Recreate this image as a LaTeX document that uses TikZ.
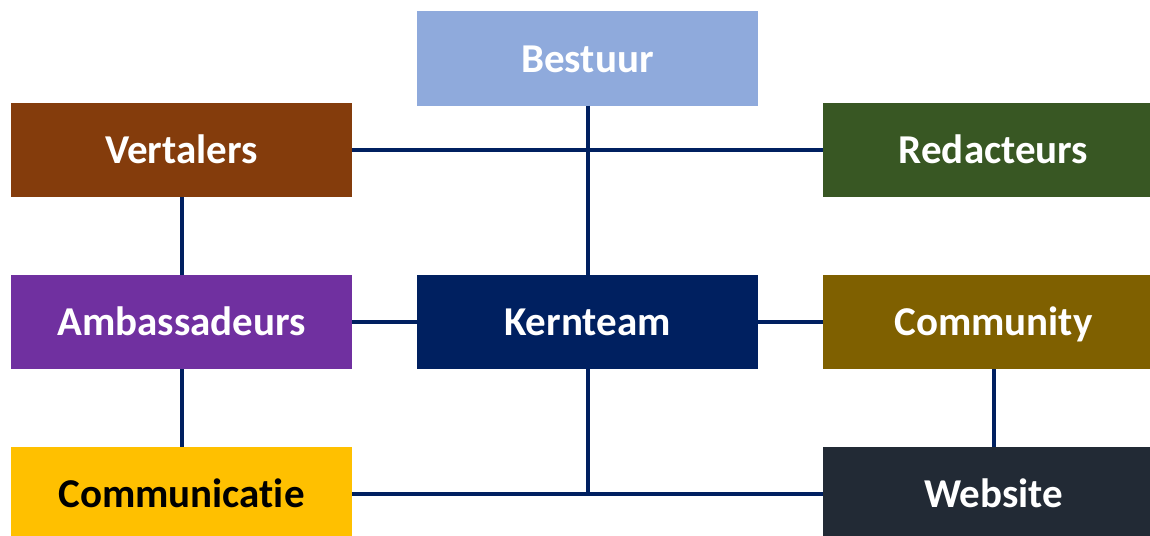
\documentclass[tikz,border=0pt]{standalone}
\usepackage{fontspec}
\setmainfont[Ligatures=NoCommon]{Carlito}
\usepackage{xcolor}
\usetikzlibrary{positioning}

\definecolor{bestuurblue}{HTML}{8FAADC}
\definecolor{vertbrown}{HTML}{843C0C}
\definecolor{redgreen}{HTML}{385723}
\definecolor{ambpurple}{HTML}{7030A0}
\definecolor{kernnavy}{HTML}{002060}
\definecolor{comolive}{HTML}{7F6000}
\definecolor{commyellow}{HTML}{FFC000}
\definecolor{webdark}{HTML}{222A35}

\begin{document}
\begin{tikzpicture}[x=1pt, y=1pt,
                team/.style = {minimum width = 341pt, minimum height = 94pt, inner sep = 0pt,
                               text height = 27pt, text depth = 0pt,
                               text = white, font = \fontsize{41}{46}\selectfont\bfseries},
                link/.style = {draw = kernnavy, line width = 4pt}
                ]
                \clip (0,0) rectangle (1150,-535);
                % bovenste rij
                \node[team, fill = bestuurblue] (bestuur) at (587.5,-58.5) {Bestuur};
                \node[team, fill = vertbrown] (vertalers) at (181.5,-150) {Vertalers};
                \node[team, fill = redgreen] (redacteurs) at (993.5,-150) {Redacteurs};
                % middelste rij
                \node[team, fill = ambpurple] (ambassadeurs) at (181.5,-322) {Ambassadeurs};
                \node[team, fill = kernnavy] (kernteam) at (587.5,-322) {Kernteam};
                \node[team, fill = comolive] (community) at (993.5,-322) {Community};
                % onderste rij
                \node[team, fill = commyellow, text = black] (communicatie) at (181.5,-494) {Communicatie};
                \node[team, fill = webdark] (website) at (993.5,-494) {Website};

                \draw[link] (vertalers) -- (redacteurs);
                \draw[link] (bestuur) -- (kernteam);
                \draw[link] (vertalers) -- (ambassadeurs);
                \draw[link] (ambassadeurs) -- (kernteam);
                \draw[link] (kernteam) -- (community);
                \draw[link] (ambassadeurs) -- (communicatie);
                \draw[link] (community) -- (website);
                \draw[link] (communicatie) -- (website);
                \draw[link] (kernteam.south) -- (kernteam.south |- communicatie.east);
            \end{tikzpicture}
\end{document}
